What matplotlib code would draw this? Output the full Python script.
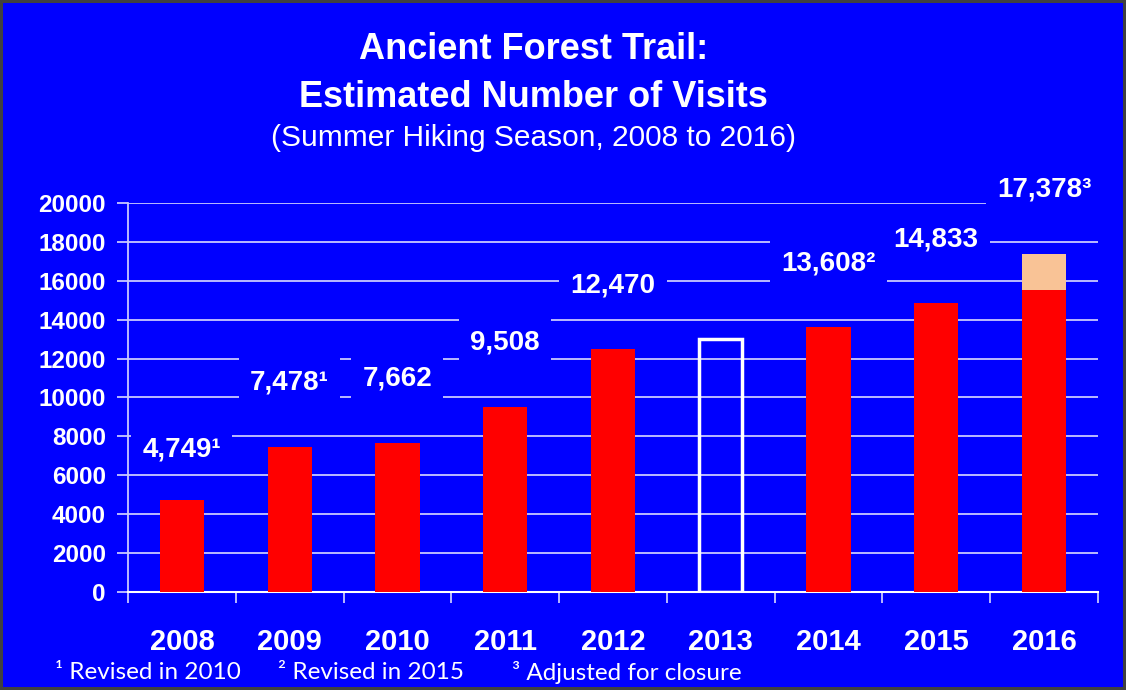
import matplotlib.pyplot as plt

# valores
years = ['2008', '2009', '2010', '2011', '2012', '2013', '2014', '2015', '2016']
visits = [4749, 7478, 7662, 9508, 12470, 13000, 13608, 14833, 15500]
adjustment = [0, 0, 0, 0, 0, 0, 0, 0, 1878]
notes = ['1', '1', '', '', '', None, '2', '', '3']   # None = sem rótulo (2013)
open_years = ['2013']
footnotes = ['¹ Revised in 2010', '² Revised in 2015', '³ Adjusted for closure']

sup = {'1': '¹', '2': '²', '3': '³', '': ''}
blue = '#0000FF'
grid_col = '#C8C8FF'
sans = ['Liberation Sans', 'DejaVu Sans']

fig = plt.figure(figsize=(11.26, 6.9), dpi=100, facecolor=blue,
                 edgecolor='#404040', linewidth=3)
ax = fig.add_axes([0.1137, 0.142, 0.975 - 0.1137, 0.706 - 0.142])
ax.set_facecolor(blue)

x = list(range(len(years)))
for i, yr in enumerate(years):
    if yr in open_years:
        ax.bar(i, visits[i], width=0.40, facecolor='none', edgecolor='white',
               linewidth=2.5, zorder=3)
    else:
        ax.bar(i, visits[i], width=0.41, color='#FF0000', zorder=3)
        if adjustment[i]:
            ax.bar(i, adjustment[i], bottom=visits[i], width=0.41,
                   color='#F9C396', zorder=3)

# rótulos de valor
for i in x:
    if notes[i] is None:
        continue
    total = visits[i] + adjustment[i]
    txt = f'{total:,}' + sup[notes[i]]
    off = 2600 if i == 0 else 3300
    ax.text(i, total + off, txt, ha='center', va='center', color='white',
            fontsize=20, fontweight='bold', family=sans, zorder=5,
            bbox=dict(facecolor=blue, edgecolor='none', pad=8))

ax.set_xlim(-0.5, 8.5)
ax.set_ylim(0, 20000)
ax.set_yticks(range(0, 20001, 2000))
ax.set_yticklabels([str(v) for v in range(0, 20001, 2000)], fontsize=17.5,
                   fontweight='bold', color='white', family=sans)
ax.set_xticks(x)
ax.set_xticklabels(years, fontsize=21, fontweight='bold', color='white',
                   family=sans)
ax.set_xticks([v - 0.5 for v in range(len(years) + 1)], minor=True)
ax.tick_params(axis='x', which='major', length=0, pad=26)
ax.tick_params(axis='x', which='minor', length=8, width=1.3, color=grid_col,
               direction='out')
ax.tick_params(axis='y', length=8, width=1.3, color=grid_col, pad=8)

ax.yaxis.grid(True, color=grid_col, linewidth=1.3)
ax.set_axisbelow(True)
for s in ['top', 'right']:
    ax.spines[s].set_visible(False)
ax.spines['left'].set_color(grid_col)
ax.spines['left'].set_linewidth(1.3)
ax.spines['bottom'].set_color('white')
ax.spines['bottom'].set_linewidth(1.5)

# títulos
fig.text(0.474, 0.928, 'Ancient Forest Trail:', ha='center', va='center',
         color='white', fontsize=26, fontweight='bold', family=sans)
fig.text(0.474, 0.859, 'Estimated Number of Visits', ha='center', va='center',
         color='white', fontsize=26, fontweight='bold', family=sans)
fig.text(0.474, 0.800, '(Summer Hiking Season, 2008 to 2016)', ha='center',
         va='center', color='white', fontsize=21.5, family=sans)

# notas de rodapé
for fx, note in zip([0.049, 0.247, 0.455], footnotes):
    fig.text(fx, 0.026, note, ha='left', va='center', color='white',
             fontsize=17.5, family=['Lato', 'DejaVu Sans'])

fig.savefig('out.png', dpi=100, facecolor=blue, edgecolor='#404040')
